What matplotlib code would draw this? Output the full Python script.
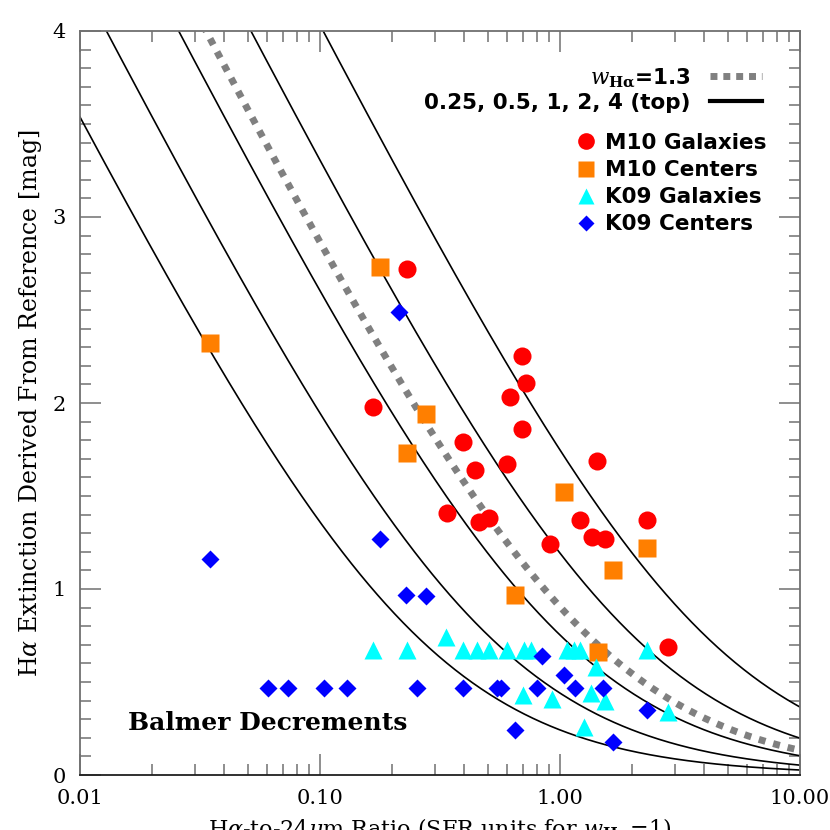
import numpy as np
import matplotlib.pyplot as plt
from matplotlib.lines import Line2D
from matplotlib.ticker import FixedLocator, FuncFormatter, MultipleLocator, LogLocator

plt.rcParams['mathtext.fontset'] = 'dejavuserif'

# model weights for the mixed Halpha + 24um curves
w_solid = [0.25, 0.5, 1, 2, 4]
w_dash = 1.3

# M10 galaxies (red circles)
m10_gal_x = [0.230, 0.166, 0.394, 0.443, 0.338, 0.460, 0.506, 0.695, 0.722, 0.619,
             0.695, 0.601, 0.908, 1.43, 1.21, 1.36, 1.54, 2.30, 2.82]
m10_gal_y = [2.72, 1.98, 1.79, 1.64, 1.41, 1.36, 1.38, 2.25, 2.11, 2.03,
             1.86, 1.67, 1.24, 1.69, 1.37, 1.28, 1.27, 1.37, 0.69]

# M10 centers (orange squares)
m10_cen_x = [0.0348, 0.178, 0.276, 0.230, 1.04, 2.30, 1.66, 0.649, 1.44]
m10_cen_y = [2.32, 2.73, 1.94, 1.73, 1.52, 1.22, 1.10, 0.97, 0.66]

# K09 galaxies (cyan triangles)
k09_gal_x = [0.166, 0.231, 0.335, 0.395, 0.450, 0.508, 0.604, 0.705, 0.757, 1.07,
             1.14, 1.21, 2.31, 1.41, 0.702, 0.923, 1.35, 1.54, 2.82, 1.26]
k09_gal_y = [0.67, 0.67, 0.74, 0.67, 0.67, 0.67, 0.67, 0.67, 0.67, 0.67,
             0.67, 0.67, 0.67, 0.58, 0.43, 0.41, 0.44, 0.40, 0.34, 0.26]

# K09 centers (blue diamonds)
k09_cen_x = [0.0348, 0.213, 0.178, 0.228, 0.276, 0.0609, 0.0738, 0.104, 0.130, 0.254,
             0.395, 0.548, 0.57, 0.800, 0.839, 1.04, 1.16, 1.51, 0.649, 1.66, 2.30]
k09_cen_y = [1.16, 2.49, 1.27, 0.97, 0.96, 0.47, 0.47, 0.47, 0.47, 0.47,
             0.47, 0.47, 0.47, 0.47, 0.64, 0.54, 0.47, 0.47, 0.24, 0.18, 0.35]

xtick_vals = [0.01, 0.1, 1, 10]
xtick_labels = ['0.01', '0.10', '1.00', '10.00']

fig = plt.figure(figsize=(8.3, 8.3), dpi=100)
ax = fig.add_axes([80/830, 55/830, 720/830, 744/830])

xx = np.logspace(-2, 1, 500)
for w in w_solid:
    ax.plot(xx, 2.5*np.log10(1 + w/xx), color='black', lw=1.2, zorder=2)
ax.plot(xx, 2.5*np.log10(1 + w_dash/xx), color='#808080', lw=5,
        dashes=(1, 1.15), dash_capstyle='butt', zorder=3)

ax.plot(m10_gal_x, m10_gal_y, 'o', color='#ff0000', ms=13, mec='none', zorder=4)
ax.plot(m10_cen_x, m10_cen_y, 's', color='#ff7f00', ms=13, mec='none', zorder=4)
ax.plot(k09_gal_x, k09_gal_y, '^', color='#00ffff', ms=13, mec='none', zorder=5)
ax.plot(k09_cen_x, k09_cen_y, 'D', color='#0000ff', ms=9, mec='none', zorder=6)

ax.set_xscale('log')
ax.set_xlim(0.01, 10)
ax.set_ylim(0, 4)

ax.xaxis.set_major_locator(FixedLocator(xtick_vals))
ax.xaxis.set_major_formatter(FuncFormatter(lambda v, p: xtick_labels[xtick_vals.index(min(xtick_vals, key=lambda t: abs(np.log10(t) - np.log10(v))))]))
ax.xaxis.set_minor_locator(LogLocator(base=10, subs=np.arange(2, 10)))
ax.xaxis.set_minor_formatter(FuncFormatter(lambda v, p: ''))
ax.yaxis.set_major_locator(MultipleLocator(1))
ax.yaxis.set_minor_locator(MultipleLocator(0.1))

gray = '#707070'
for s in ax.spines.values():
    s.set_color(gray)
    s.set_linewidth(1.3)
ax.spines['bottom'].set_color('#202020')
ax.tick_params(which='both', direction='in', top=True, right=True, color=gray, width=1.1,
               labelsize=15, pad=10)
ax.tick_params(which='major', length=15)
ax.tick_params(which='minor', length=8)
for lab in ax.get_xticklabels() + ax.get_yticklabels():
    lab.set_family('DejaVu Serif')

ax.set_ylabel(r'H$\alpha$ Extinction Derived From Reference [mag]', family='DejaVu Serif',
              fontsize=17, labelpad=6)
ax.set_xlabel(r'H$\alpha$-to-24$\mu$m Ratio (SFR units for $w_{\mathbf{H\alpha}}$=1)',
              family='DejaVu Serif', fontsize=16, labelpad=6)

ax.text(0.067, 0.07, 'Balmer Decrements', transform=ax.transAxes, family='DejaVu Serif',
        fontweight='bold', fontsize=18, va='center', ha='left')

line_handles = [Line2D([], [], color='#808080', lw=5, dashes=(1, 0.85), dash_capstyle='butt'),
                Line2D([], [], color='black', lw=3)]
leg1 = ax.legend(line_handles, [r'$w_{\mathbf{H\alpha}}$=1.3', '0.25, 0.5, 1, 2, 4 (top)'],
                 loc='upper right', bbox_to_anchor=((762-80)/720, (775-66)/744),
                 frameon=False, markerfirst=False, handlelength=2.4, handletextpad=0.9,
                 labelspacing=0.15, borderpad=0, borderaxespad=0,
                 prop={'family': 'DejaVu Sans', 'weight': 'bold', 'size': 15.5})
ax.add_artist(leg1)

pt_handles = [Line2D([], [], ls='none', marker='o', color='#ff0000', ms=12, mec='none'),
              Line2D([], [], ls='none', marker='s', color='#ff7f00', ms=11, mec='none'),
              Line2D([], [], ls='none', marker='^', color='#00ffff', ms=12, mec='none'),
              Line2D([], [], ls='none', marker='D', color='#0000ff', ms=8, mec='none')]
ax.legend(pt_handles, ['M10 Galaxies', 'M10 Centers', 'K09 Galaxies', 'K09 Centers'],
          loc='upper left', bbox_to_anchor=((576-80)/720, (775-133)/744),
          frameon=False, handlelength=0.9, handletextpad=0.45, labelspacing=0.33,
          borderpad=0, borderaxespad=0,
          prop={'family': 'DejaVu Sans', 'weight': 'bold', 'size': 15.5})

fig.savefig('out.png', dpi=100)
